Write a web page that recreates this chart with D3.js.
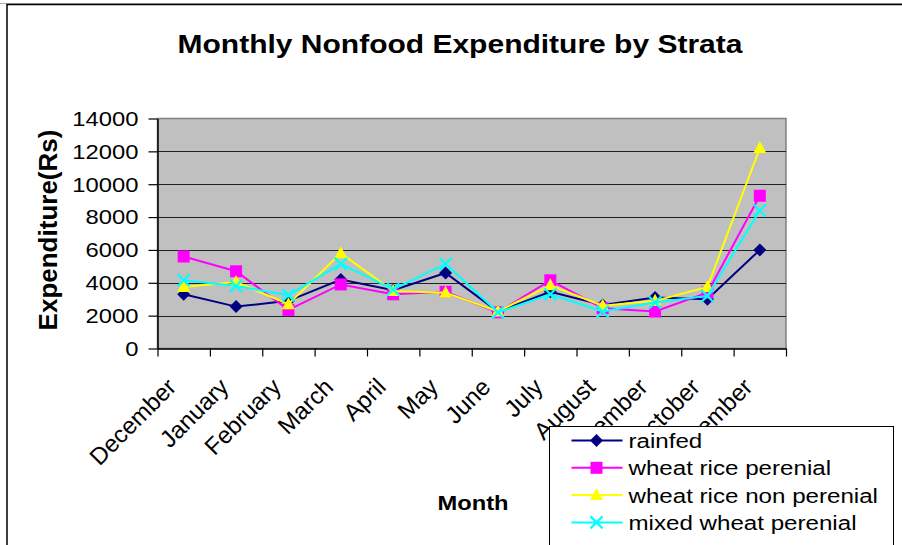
<!DOCTYPE html>
<html>
<head>
<meta charset="utf-8">
<script src="https://cdn.jsdelivr.net/npm/d3@7/dist/d3.min.js"></script>
<style>
  body { margin: 0; background: #fff; }
  svg { display: block; font-family: "Liberation Sans", Arial, sans-serif; }
</style>
</head>
<body>
<div class="chart"></div>
<script>
var months = ['December', 'January', 'February', 'March', 'April', 'May', 'June',
              'July', 'August', 'September', 'October', 'November'];
var rainfed              = [3300, 2550, 2900, 4200, 3550, 4600, 2250, 3450, 2650, 3100, 3000, 6000];
var wheatRicePerenial    = [5600, 4700, 2350, 3900, 3300, 3450, 2200, 4150, 2450, 2250, 3400, 9300];
var wheatRiceNonPerenial = [3750, 4050, 2700, 5800, 3500, 3400, 2250, 3850, 2600, 2900, 3750, 12200];
var mixedWheatPerenial   = [4150, 3800, 3250, 5150, 3600, 5150, 2200, 3300, 2250, 2800, 3200, 8400];
var seriesNames = ['rainfed', 'wheat rice perenial', 'wheat rice non perenial', 'mixed wheat perenial'];
var seriesColors = ['#000080', '#ff00ff', '#ffff00', '#00ffff'];
var seriesSymbols = ['diamond', 'square', 'triangle', 'cross'];
var yTicks = [0, 2000, 4000, 6000, 8000, 10000, 12000, 14000];

var W = 902, H = 545;
var plot = { left: 157.5, right: 786, top: 118.5, bottom: 348.5 };

var svg = d3.select('.chart').append('svg').attr('width', W).attr('height', H);

// chart frame
svg.append('line').attr('x1', 0).attr('x2', W).attr('y1', 3.5).attr('y2', 3.5)
  .attr('stroke', '#b0b0b0').attr('stroke-width', 1);
svg.append('rect').attr('x', 7).attr('y', 4.5).attr('width', W + 10).attr('height', H)
  .attr('fill', '#fff').attr('stroke', '#000').attr('stroke-width', 1.5);

var x = d3.scaleBand().domain(months).range([plot.left, plot.right]).padding(0);
var xEdge = d3.scaleLinear().domain([0, months.length]).range([plot.left, plot.right]);
var y = d3.scaleLinear().domain([0, 14000]).range([plot.bottom, plot.top]);
function cx(m) { return x(m) + x.bandwidth() / 2; }

svg.append('rect')
  .attr('x', plot.left).attr('y', plot.top)
  .attr('width', plot.right - plot.left).attr('height', plot.bottom - plot.top)
  .attr('fill', '#c0c0c0').attr('stroke', '#808080').attr('stroke-width', 1.5);

svg.append('g').selectAll('line').data(yTicks.slice(1, -1)).enter().append('line')
  .attr('x1', plot.left).attr('x2', plot.right)
  .attr('y1', function(d) { return Math.round(y(d)) + 0.5; })
  .attr('y2', function(d) { return Math.round(y(d)) + 0.5; })
  .attr('stroke', '#222').attr('stroke-width', 1.2);

// y axis
var yAxis = svg.append('g').attr('transform', 'translate(' + plot.left + ',0)')
  .call(d3.axisLeft(y).tickValues(yTicks).tickSize(9).tickSizeOuter(0).tickFormat(function(d) { return d; }));
yAxis.select('.domain').attr('stroke', '#000').attr('stroke-width', 1.5);
yAxis.selectAll('.tick line').attr('stroke', '#000').attr('stroke-width', 1.2);
yAxis.selectAll('.tick text')
  .attr('x', null).attr('dy', '0.35em')
  .attr('transform', 'translate(-19,0) scale(1.22,1)')
  .style('font-size', '19.5px').attr('fill', '#000')
  .style('font-family', '"Liberation Sans", Arial, sans-serif');

// x axis (ticks on category edges)
var xAxis = svg.append('g').attr('transform', 'translate(0,' + plot.bottom + ')')
  .call(d3.axisBottom(xEdge).tickValues(d3.range(months.length + 1)).tickSize(8).tickSizeOuter(0).tickFormat(''));
xAxis.select('.domain').attr('stroke', '#000').attr('stroke-width', 1.5);
xAxis.selectAll('.tick line').attr('stroke', '#000').attr('stroke-width', 1.2);

svg.append('g').selectAll('text').data(months).enter().append('text')
  .attr('transform', function(d) { return 'translate(' + (cx(d) - 6) + ',' + (plot.bottom + 40) + ') rotate(-45)'; })
  .attr('text-anchor', 'end')
  .style('font-size', '24px')
  .text(function(d) { return d; });

// series
var allSeries = [rainfed, wheatRicePerenial, wheatRiceNonPerenial, mixedWheatPerenial];
var line = d3.line().x(function(d, i) { return cx(months[i]); }).y(function(d) { return y(d); });

function marker(g, type, color) {
  if (type === 'diamond') {
    g.append('path').attr('d', 'M0,-6.5L6.5,0L0,6.5L-6.5,0Z').attr('fill', color);
  } else if (type === 'square') {
    g.append('rect').attr('x', -6).attr('y', -6).attr('width', 12).attr('height', 12).attr('fill', color);
  } else if (type === 'triangle') {
    g.append('path').attr('d', 'M0,-7L6.5,5L-6.5,5Z').attr('fill', color);
  } else {
    g.append('path').attr('d', 'M-6,-6L6,6M-6,6L6,-6').attr('stroke', color).attr('stroke-width', 2.2).attr('fill', 'none');
  }
}

allSeries.forEach(function(vals, s) {
  var g = svg.append('g');
  g.append('path').datum(vals).attr('d', line)
    .attr('fill', 'none').attr('stroke', seriesColors[s]).attr('stroke-width', 2);
  vals.forEach(function(v, i) {
    var m = g.append('g').attr('transform', 'translate(' + cx(months[i]) + ',' + y(v) + ')');
    marker(m, seriesSymbols[s], seriesColors[s]);
  });
});

// titles
svg.append('text')
  .attr('transform', 'translate(460,53) scale(1.2,1)')
  .attr('text-anchor', 'middle').style('font-size', '25px').style('font-weight', 'bold')
  .text('Monthly Nonfood Expenditure by Strata');

svg.append('text')
  .attr('transform', 'translate(57,230) rotate(-90)')
  .attr('text-anchor', 'middle').style('font-size', '26px').style('font-weight', 'bold')
  .text('Expenditure(Rs)');

svg.append('text')
  .attr('transform', 'translate(473,510) scale(1.13,1)')
  .attr('text-anchor', 'middle').style('font-size', '21px').style('font-weight', 'bold')
  .text('Month');

// legend
var legend = svg.append('g').attr('transform', 'translate(549.5,426.5)');
legend.append('rect').attr('width', 344).attr('height', 140)
  .attr('fill', '#fff').attr('stroke', '#000').attr('stroke-width', 1);
seriesNames.forEach(function(name, s) {
  var ly = 14 + s * 27.3;
  legend.append('line').attr('x1', 22).attr('x2', 73).attr('y1', ly).attr('y2', ly)
    .attr('stroke', seriesColors[s]).attr('stroke-width', 2);
  marker(legend.append('g').attr('transform', 'translate(47,' + ly + ')'), seriesSymbols[s], seriesColors[s]);
  legend.append('text')
    .attr('transform', 'translate(79,' + (ly + 7.5) + ') scale(1.15,1)')
    .style('font-size', '21px')
    .text(name);
});
</script>
</body>
</html>
